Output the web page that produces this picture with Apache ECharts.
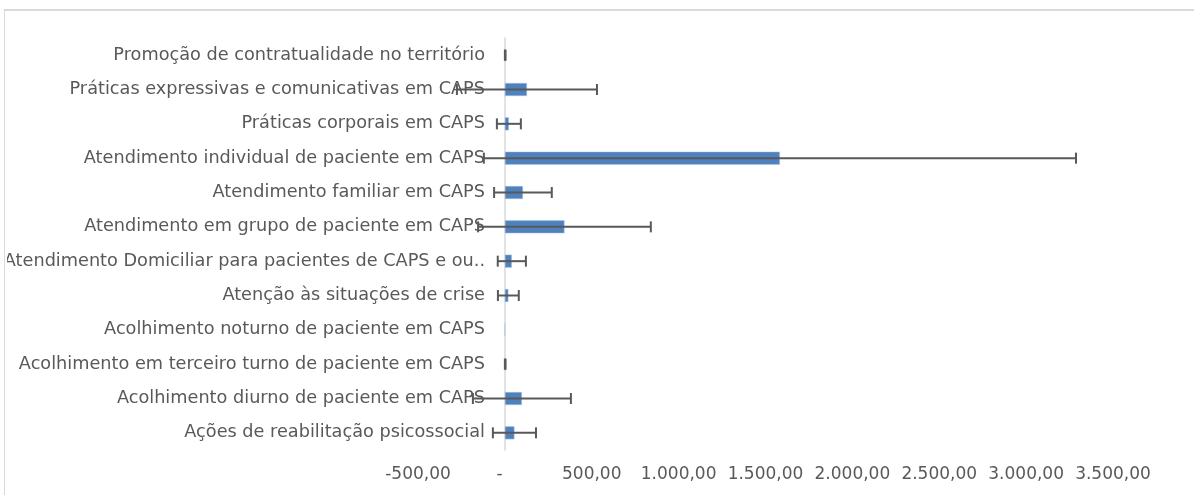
<!DOCTYPE html>
<html>
<head>
<meta charset="utf-8">
<script src="https://cdn.jsdelivr.net/npm/echarts@6/dist/echarts.min.js"></script>
<style>
  html, body { margin: 0; padding: 0; background: #fff; overflow: hidden; }
  #frame { position: absolute; left: 4px; top: 9px; width: 1300px; height: 600px;
           border-left: 1px solid #d9d9d9; border-top: 2px solid #d9d9d9; }
  #chart { position: absolute; left: 7px; top: 0; width: 1187px; height: 495px; }
</style>
</head>
<body>
<div id="frame"></div>
<div id="chart"></div>
<script>
// categories listed bottom to top, like the source spreadsheet
const categories = [
  'Ações de reabilitação psicossocial',
  'Acolhimento diurno de paciente em CAPS',
  'Acolhimento em terceiro turno de paciente em CAPS',
  'Acolhimento noturno de paciente em CAPS',
  'Atenção às situações de crise',
  'Atendimento Domiciliar para pacientes de CAPS e ou..',
  'Atendimento em grupo de paciente em CAPS',
  'Atendimento familiar em CAPS',
  'Atendimento individual de paciente em CAPS',
  'Práticas corporais em CAPS',
  'Práticas expressivas e comunicativas em CAPS',
  'Promoção de contratualidade no território'
];
const means = [55, 98, 2, 0, 20, 40, 343, 104, 1583, 23, 127, 2];
const errors = [124, 282, 2, 0, 60, 81, 497, 166, 1704, 69, 403, 2];

const fontFamily = 'DejaVu Sans';
const textColor = '#595959';

function fmt(v) {
  if (v === 0) return '-  ';
  const neg = v < 0;
  const s = Math.abs(v).toFixed(2).split('.');
  const int = s[0].replace(/\B(?=(\d{3})+(?!\d))/g, '.');
  return (neg ? '-' : '') + int + ',' + s[1];
}

const chart = echarts.init(document.getElementById('chart'));
chart.setOption({
  animation: false,
  grid: { left: 411, right: 81, top: 38, bottom: 45, containLabel: false, outerBoundsMode: 'none' },
  xAxis: {
    type: 'value',
    min: -500,
    max: 3500,
    interval: 500,
    axisLine: { show: false },
    axisTick: { show: false },
    splitLine: { show: false },
    axisLabel: {
      formatter: fmt,
      color: textColor,
      fontFamily: fontFamily,
      fontSize: 17,
      margin: 16
    }
  },
  yAxis: {
    type: 'category',
    data: categories,
    // move the category axis (line + labels) onto the zero value
    offset: -87,
    axisLine: { show: true, onZero: false, lineStyle: { color: '#d9d9d9', width: 1.5 } },
    axisTick: { show: false },
    axisLabel: {
      color: textColor,
      fontFamily: fontFamily,
      fontSize: 17.7,
      margin: 20
    }
  },
  series: [
    {
      type: 'bar',
      data: means,
      barWidth: 13,
      itemStyle: { color: '#4f81bd', borderColor: '#a9c4e6', borderWidth: 0.5 }
    },
    {
      type: 'custom',
      z: 5,
      encode: { x: 1, y: 0 },
      data: means.map((m, i) => [i, m, errors[i]]),
      renderItem: function (params, api) {
        const idx = api.value(0);
        const m = api.value(1);
        const e = api.value(2);
        if (e === 0) return null;
        const lo = api.coord([m - e, idx]);
        const hi = api.coord([m + e, idx]);
        const h = 5.5;
        const style = { stroke: '#595959', lineWidth: 2 };
        return {
          type: 'group',
          children: [
            { type: 'line', shape: { x1: lo[0], y1: lo[1], x2: hi[0], y2: hi[1] }, style: style },
            { type: 'line', shape: { x1: lo[0], y1: lo[1] - h, x2: lo[0], y2: lo[1] + h }, style: style },
            { type: 'line', shape: { x1: hi[0], y1: hi[1] - h, x2: hi[0], y2: hi[1] + h }, style: style }
          ]
        };
      }
    }
  ]
});
</script>
</body>
</html>
